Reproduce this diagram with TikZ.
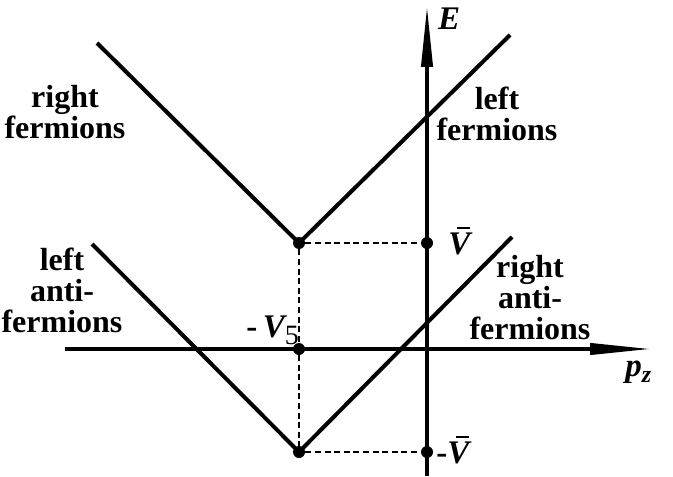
\documentclass[tikz,border=0pt]{standalone}
\usepackage{fontspec}
\setmainfont{Liberation Serif}
\usetikzlibrary{arrows.meta}
\newcommand{\barV}{{\rlap{\hspace{4.2pt}\raisebox{12.3pt}{\rule{6.5pt}{1.1pt}}}V}}

\begin{document}
\begin{tikzpicture}[x=0.5pt,y=-0.5pt,
 lbl/.style={font=\fontsize{16}{15.5}\selectfont\bfseries,align=center,inner sep=0pt},
 sym/.style={font=\fontsize{16.5}{16.5}\selectfont\bfseries\itshape,inner sep=0pt},
 branch/.style={line width=2pt},
 axis/.style={line width=2pt,-{Triangle[length=31pt,width=5.5pt]}},
 guide/.style={line width=0.75pt,dash pattern=on 3pt off 1.8pt},
 dot/.style={circle,fill,inner sep=0pt,minimum size=6pt}]
 \useasboundingbox (0,0) rectangle (673,476);
 % axes
 \coordinate (xstart) at (65,349);
 \coordinate (xend) at (652,349);
 \coordinate (ystart) at (427,476);
 \coordinate (yend) at (427,5);
 \draw[axis] (xstart) -- (xend);
 \draw[axis] (ystart) -- (yend);
 % branch ends
 \coordinate (rfend) at (97,43);
 \coordinate (lfend) at (510,35);
 \coordinate (lafend) at (92,244);
 \coordinate (rafend) at (512,237);
 % marked points
 \node[dot] (upper) at (299,243) {};
 \node[dot] (lower) at (299,452) {};
 \node[dot] (shift) at (299,349) {};
 \node[dot] (vbarpt) at (427,243) {};
 \node[dot] (mvbarpt) at (427,452) {};
 % dispersion branches
 \draw[branch] (rfend) -- (upper.center) -- (lfend);
 \draw[branch] (lafend) -- (lower.center) -- (rafend);
 % guides
 \draw[guide] (upper) -- (lower);
 \draw[guide] (upper) -- (vbarpt);
 \draw[guide] (lower) -- (mvbarpt);
 % labels
 \node[lbl] (rightf) at (65,112) {right\\fermions};
 \node[lbl] (leftf) at (497,114) {left\\fermions};
 \node[lbl] (leftaf) at (62,290) {left\\anti-\\fermions};
 \node[lbl] (rightaf) at (530,298) {right\\anti-\\fermions};
 \node[sym] (elab) at (449,19) {E};
 \node[sym,anchor=base west] (vbar) at (448,254) {\barV};
 \node[sym,anchor=base west] (vfive) at (246,337) {{\upshape-}\,V\raisebox{-3.5pt}{\mdseries\upshape\fontsize{14}{14}\selectfont 5}};
 \node[sym,anchor=base west] (mvbar) at (436,463) {{\upshape-}\barV};
 \node[sym,anchor=base west] (pzlab) at (625,376) {p\raisebox{-3pt}{\fontsize{12}{12}\selectfont z}};
\end{tikzpicture}
\end{document}
